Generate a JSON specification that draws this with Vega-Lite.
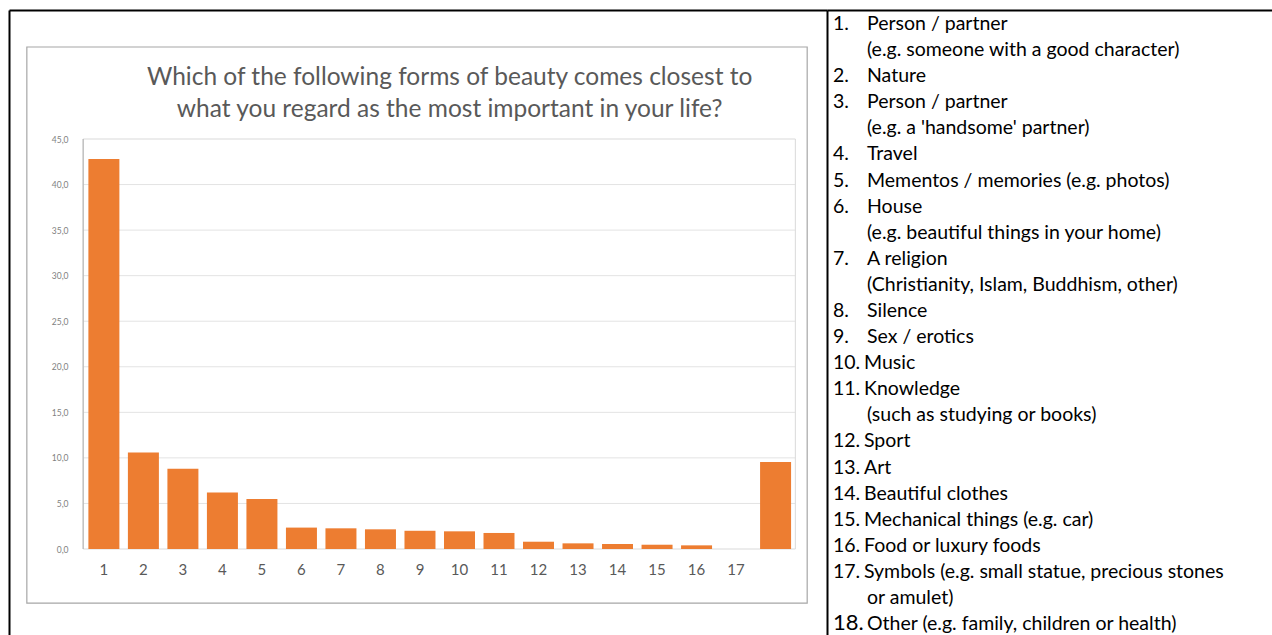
{
  "$schema": "https://vega.github.io/schema/vega-lite/v6.json",
  "background": "white",
  "padding": {"left": 9, "top": 10, "right": 0, "bottom": 0},
  "bounds": "flush",
  "spacing": 0,
  "config": {"view": {"stroke": null}, "font": "Lato"},
  "resolve": {"scale": {"x": "independent", "y": "independent"}},
  "datasets": {
    "beauty": [
      {"n": 1, "pct": 42.8}, {"n": 2, "pct": 10.6}, {"n": 3, "pct": 8.8},
      {"n": 4, "pct": 6.2}, {"n": 5, "pct": 5.5}, {"n": 6, "pct": 2.35},
      {"n": 7, "pct": 2.27}, {"n": 8, "pct": 2.16}, {"n": 9, "pct": 2.0},
      {"n": 10, "pct": 1.94}, {"n": 11, "pct": 1.76}, {"n": 12, "pct": 0.8},
      {"n": 13, "pct": 0.62}, {"n": 14, "pct": 0.55}, {"n": 15, "pct": 0.47},
      {"n": 16, "pct": 0.4}, {"n": 17, "pct": 0}, {"n": 18, "pct": 9.55}
    ],
    "grid": [{"v": 5}, {"v": 10}, {"v": 15}, {"v": 20}, {"v": 25}, {"v": 30}, {"v": 35}, {"v": 40}],
    "one": [{"k": 1}],
    "list": [
      {"line": 0, "item": 1, "num": "1.", "text": "Person / partner"},
      {"line": 1, "item": 1, "num": "", "text": "(e.g. someone with a good character)"},
      {"line": 2, "item": 2, "num": "2.", "text": "Nature"},
      {"line": 3, "item": 3, "num": "3.", "text": "Person / partner"},
      {"line": 4, "item": 3, "num": "", "text": "(e.g. a 'handsome' partner)"},
      {"line": 5, "item": 4, "num": "4.", "text": "Travel"},
      {"line": 6, "item": 5, "num": "5.", "text": "Mementos / memories (e.g. photos)"},
      {"line": 7, "item": 6, "num": "6.", "text": "House"},
      {"line": 8, "item": 6, "num": "", "text": "(e.g. beautiful things in your home)"},
      {"line": 9, "item": 7, "num": "7.", "text": "A religion"},
      {"line": 10, "item": 7, "num": "", "text": "(Christianity, Islam, Buddhism, other)"},
      {"line": 11, "item": 8, "num": "8.", "text": "Silence"},
      {"line": 12, "item": 9, "num": "9.", "text": "Sex / erotics"},
      {"line": 13, "item": 10, "num": "10.", "text": "Music"},
      {"line": 14, "item": 11, "num": "11.", "text": "Knowledge"},
      {"line": 15, "item": 11, "num": "", "text": "(such as studying or books)"},
      {"line": 16, "item": 12, "num": "12.", "text": "Sport"},
      {"line": 17, "item": 13, "num": "13.", "text": "Art"},
      {"line": 18, "item": 14, "num": "14.", "text": "Beautiful clothes"},
      {"line": 19, "item": 15, "num": "15.", "text": "Mechanical things (e.g. car)"},
      {"line": 20, "item": 16, "num": "16.", "text": "Food or luxury foods"},
      {"line": 21, "item": 17, "num": "17.", "text": "Symbols (e.g. small statue, precious stones"},
      {"line": 22, "item": 17, "num": "", "text": "or amulet)"},
      {"line": 23, "item": 18, "num": "18.", "text": "Other (e.g. family, children or health)"}
    ]
  },
  "hconcat": [
    {
      "width": 818,
      "height": 625,
      "resolve": {"axis": {"x": "independent", "y": "independent"}},
      "layer": [
        {
          "data": {"name": "one"},
          "mark": {"type": "rect", "filled": false, "stroke": "#a6a6a6", "strokeWidth": 1.2},
          "encoding": {
            "x": {"datum": -0.95, "type": "quantitative", "scale": {"domain": [-1.275, 19.175], "nice": false, "zero": false},
                  "axis": {"orient": "top", "domain": true, "domainColor": "black", "domainWidth": 2, "ticks": false, "labels": false, "grid": false, "title": null}},
            "x2": {"datum": 18.8},
            "y": {"datum": 55.1, "type": "quantitative", "scale": {"domain": [-9.439, 59.159], "nice": false, "zero": false},
                  "axis": {"orient": "left", "domain": true, "domainColor": "black", "domainWidth": 2, "ticks": false, "tickSize": 0, "grid": false, "title": null,
                           "values": [0, 5, 10, 15, 20, 25, 30, 35, 40, 45],
                           "labelExpr": "replace(format(datum.value, '.1f'), '.', ',')",
                           "labelPadding": -59, "labelFontSize": 8.5, "labelColor": "#7f7f7f", "labelFont": "Lato"}},
            "y2": {"datum": -5.93}
          }
        },
        {
          "data": {"name": "grid"},
          "mark": {"type": "rule", "stroke": "#e3e3e3", "strokeWidth": 1},
          "encoding": {
            "x": {"datum": 0.475, "type": "quantitative", "scale": {"domain": [-1.275, 19.175], "nice": false, "zero": false}, "axis": null},
            "x2": {"datum": 18.5},
            "y": {"field": "v", "type": "quantitative", "scale": {"domain": [-9.439, 59.159], "nice": false, "zero": false}, "axis": null}
          }
        },
        {
          "data": {"name": "one"},
          "mark": {"type": "rect", "filled": false, "stroke": "#d9d9d9", "strokeWidth": 1},
          "encoding": {
            "x": {"datum": 0.475, "type": "quantitative", "scale": {"domain": [-1.275, 19.175], "nice": false, "zero": false}, "axis": null},
            "x2": {"datum": 18.5},
            "y": {"datum": 45, "type": "quantitative", "scale": {"domain": [-9.439, 59.159], "nice": false, "zero": false}, "axis": null},
            "y2": {"datum": 0}
          }
        },
        {
          "data": {"name": "one"},
          "mark": {"type": "rule", "stroke": "#b0b0b0", "strokeWidth": 1},
          "encoding": {
            "x": {"datum": 0.475, "type": "quantitative", "scale": {"domain": [-1.275, 19.175], "nice": false, "zero": false}, "axis": null},
            "y": {"datum": 45, "type": "quantitative", "scale": {"domain": [-9.439, 59.159], "nice": false, "zero": false}, "axis": null},
            "y2": {"datum": 0}
          }
        },
        {
          "data": {"name": "beauty"},
          "mark": {"type": "bar", "width": 31, "color": "#ED7D31"},
          "encoding": {
            "x": {"field": "n", "type": "quantitative", "scale": {"domain": [-1.275, 19.175], "nice": false, "zero": false}, "axis": null},
            "y": {"field": "pct", "type": "quantitative", "scale": {"domain": [-9.439, 59.159], "nice": false, "zero": false}, "axis": null}
          }
        },
        {
          "data": {"name": "beauty"},
          "transform": [{"filter": "datum.n <= 17"}],
          "mark": {"type": "text", "fontSize": 15, "color": "#595959", "baseline": "middle", "align": "center", "font": "Lato"},
          "encoding": {
            "x": {"field": "n", "type": "quantitative", "scale": {"domain": [-1.275, 19.175], "nice": false, "zero": false}, "axis": null},
            "y": {"datum": -2.3, "type": "quantitative", "scale": {"domain": [-9.439, 59.159], "nice": false, "zero": false}, "axis": null},
            "text": {"field": "n", "type": "quantitative"}
          }
        },
        {
          "data": {"name": "one"},
          "mark": {"type": "text", "fontSize": 24.5, "color": "#595959", "baseline": "alphabetic", "align": "center", "lineHeight": 32, "font": "Lato"},
          "encoding": {
            "x": {"datum": 9.75, "type": "quantitative", "scale": {"domain": [-1.275, 19.175], "nice": false, "zero": false}, "axis": null},
            "y": {"datum": 50.9, "type": "quantitative", "scale": {"domain": [-9.439, 59.159], "nice": false, "zero": false}, "axis": null},
            "text": {"value": ["Which of the following forms of beauty comes closest to", "what you regard as the most important in your life?"]}
          }
        }
      ]
    },
    {
      "width": 445,
      "height": 625,
      "data": {"name": "list"},
      "resolve": {"axis": {"x": "independent", "y": "independent"}},
      "layer": [
        {
          "transform": [{"filter": "datum.num != ''"}],
          "mark": {"type": "text", "align": "left", "baseline": "alphabetic", "color": "black", "font": "Lato"},
          "encoding": {
            "x": {"datum": 6, "type": "quantitative", "scale": {"domain": [0, 445], "nice": false, "zero": false},
                  "axis": {"orient": "top", "domain": true, "domainColor": "black", "domainWidth": 2, "ticks": false, "labels": false, "grid": false, "title": null}},
            "y": {"field": "line", "type": "quantitative", "scale": {"domain": [-0.767, 23.189], "nice": false, "zero": false, "reverse": true},
                  "axis": {"orient": "left", "domain": true, "domainColor": "black", "domainWidth": 2, "ticks": false, "labels": false, "grid": false, "title": null}},
            "text": {"field": "num"},
            "size": {"condition": {"test": "datum.item == 18", "value": 22}, "value": 19.5}
          }
        },
        {
          "transform": [{"filter": "datum.item < 10 || datum.num == '' || datum.item == 18"}],
          "mark": {"type": "text", "align": "left", "baseline": "alphabetic", "fontSize": 19.5, "color": "black", "font": "Lato"},
          "encoding": {
            "x": {"datum": 40, "type": "quantitative", "scale": {"domain": [0, 445], "nice": false, "zero": false}, "axis": null},
            "y": {"field": "line", "type": "quantitative", "scale": {"domain": [-0.767, 23.189], "nice": false, "zero": false, "reverse": true}, "axis": null},
            "text": {"field": "text"}
          }
        },
        {
          "transform": [{"filter": "datum.item >= 10 && datum.item < 18 && datum.num != ''"}],
          "mark": {"type": "text", "align": "left", "baseline": "alphabetic", "fontSize": 19.5, "color": "black", "font": "Lato"},
          "encoding": {
            "x": {"datum": 37, "type": "quantitative", "scale": {"domain": [0, 445], "nice": false, "zero": false}, "axis": null},
            "y": {"field": "line", "type": "quantitative", "scale": {"domain": [-0.767, 23.189], "nice": false, "zero": false, "reverse": true}, "axis": null},
            "text": {"field": "text"}
          }
        }
      ]
    }
  ]
}
